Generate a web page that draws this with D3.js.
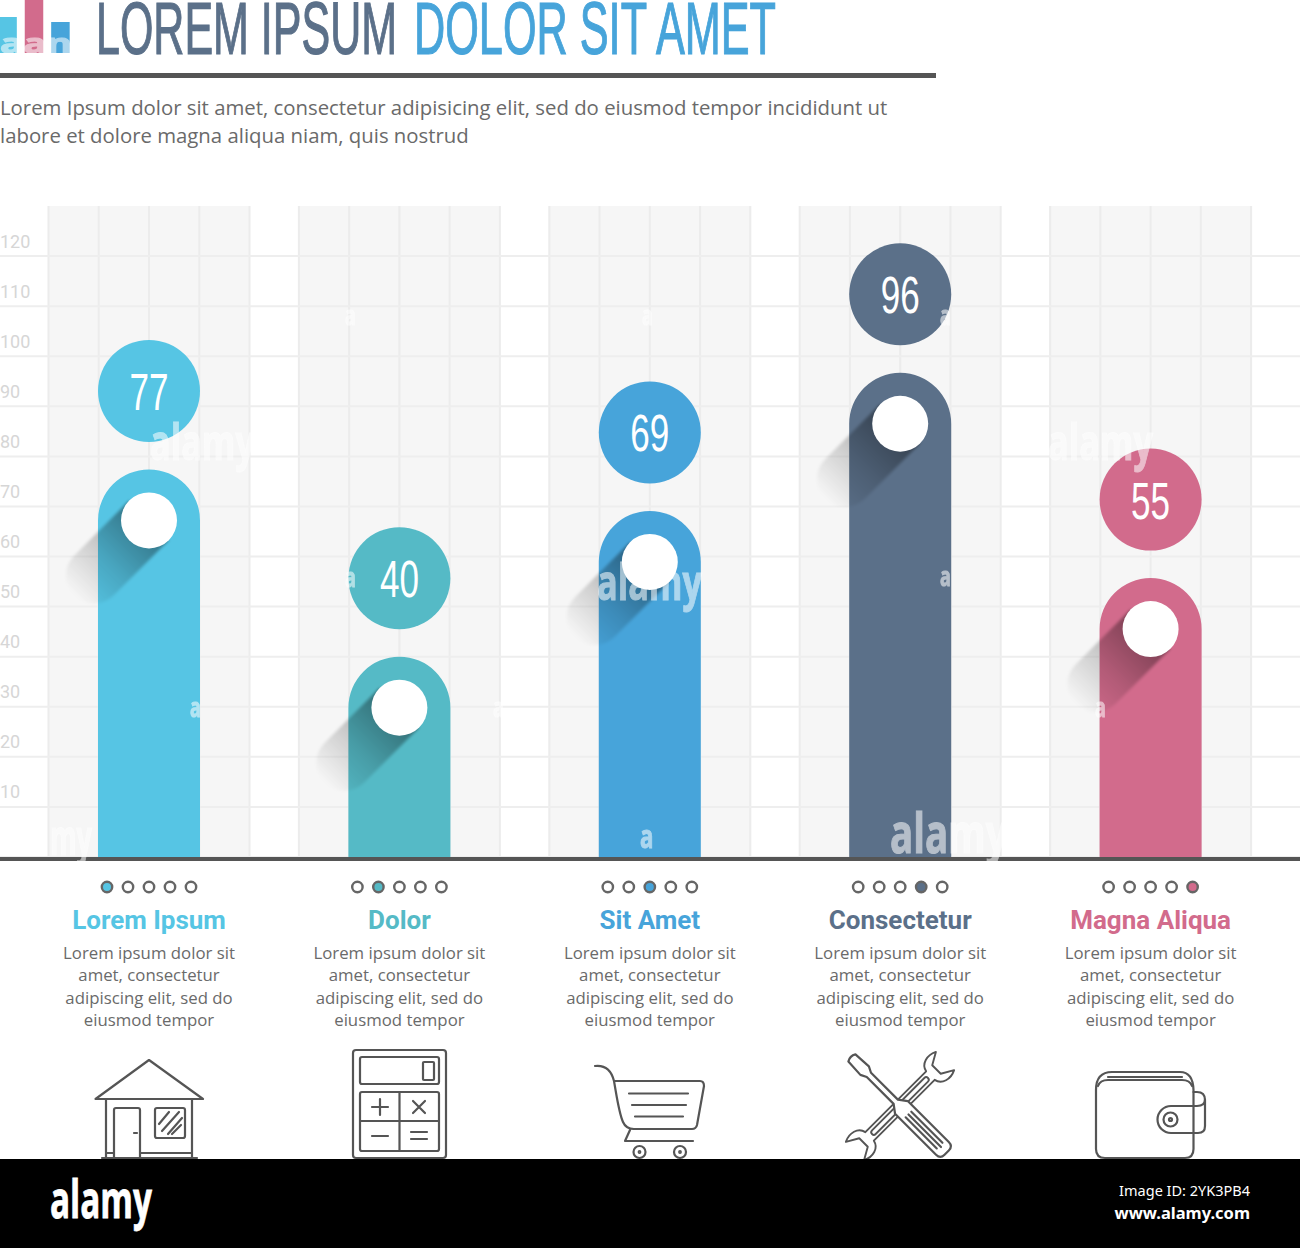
<!DOCTYPE html>
<html>
<head>
<meta charset="utf-8">
<script src="https://cdnjs.cloudflare.com/ajax/libs/d3/7.8.5/d3.min.js"></script>
<style>
  body { margin: 0; background: #fff; }
  svg { display: block; }
</style>
</head>
<body>
<svg id="chart" width="1300" height="1248"></svg>
<script>
// chart values
const categories = ["Lorem Ipsum", "Dolor", "Sit Amet", "Consectetur", "Magna Aliqua"];
const values = [77, 40, 69, 96, 55];
// where the bar tops really sit against the grid (the printed labels are rounded)
const barLevels = [77.4, 40, 69.1, 96.7, 55.7];
const colors = ["#56c5e4", "#55bac6", "#47a4da", "#5b7089", "#d26b8c"];
const tickValues = [10, 20, 30, 40, 50, 60, 70, 80, 90, 100, 110, 120];
const gridValues = [0, 10, 20, 30, 40, 50, 60, 70, 80, 90, 100, 110, 120];
const descLines = ["Lorem ipsum dolor sit", "amet, consectetur", "adipiscing elit, sed do", "eiusmod tempor"];
const subtitleLines = [
  "Lorem Ipsum dolor sit amet, consectetur adipisicing elit, sed do eiusmod tempor incididunt ut",
  "labore et dolore magna aliqua niam, quis nostrud"
];
const logoBars = [36, 53, 31];

// watermark pieces [text, x, y, size]
const marks = [
  ["alamy", 150, 460, 50], ["alamy", 597, 600, 50], ["alamy", 890, 853, 56], ["alamy", 1048, 460, 50],
  ["my", 50, 855, 50], ["a", 640, 848, 32], ["a", 940, 586, 26], ["a", 190, 717, 26], ["a", 1095, 717, 26],
  ["a", 345, 325, 26], ["a", 642, 325, 26], ["a", 345, 587, 26], ["a", 493, 717, 26], ["a", 940, 325, 26],
  ["aan", 0, 53, 26]
];

const W = 1300, H = 1248;
const svg = d3.select("#chart");
const defs = svg.append("defs");

const x = d3.scaleBand().domain(categories).range([23.8, 1275.8]);
const y = d3.scaleLinear().domain([0, 130]).range([857, 206]);
const cx = d => x(d) + x.bandwidth() / 2;
const barW = 102, bandW = 201, bubbleR = 51, knobR = 28;

const shadowGrad = defs.append("linearGradient").attr("id", "shadowGrad")
  .attr("x1", 0).attr("y1", 0).attr("x2", 0).attr("y2", 1);
shadowGrad.append("stop").attr("offset", 0).attr("stop-color", "#000").attr("stop-opacity", 0.42);
shadowGrad.append("stop").attr("offset", 0.55).attr("stop-color", "#000").attr("stop-opacity", 0.16);
shadowGrad.append("stop").attr("offset", 1).attr("stop-color", "#000").attr("stop-opacity", 0);
defs.append("filter").attr("id", "soft").append("feGaussianBlur").attr("stdDeviation", 1.5);

// header
const logoX = d3.scaleBand().domain(d3.range(3)).range([-3, 71]).paddingInner(0.3).paddingOuter(0.05);
const logoY = d3.scaleLinear().domain([0, 53]).range([53, 0]);
svg.selectAll(".logo").data(logoBars).join("rect").attr("class", "logo")
  .attr("x", (d, i) => logoX(i)).attr("y", d => logoY(d))
  .attr("width", logoX.bandwidth()).attr("height", d => logoY(0) - logoY(d))
  .attr("fill", (d, i) => [colors[0], colors[4], colors[2]][i]);

const titleFont = "'Liberation Sans Narrow','Liberation Sans',sans-serif";
svg.append("text").attr("x", 96).attr("y", 54).attr("font-family", titleFont).attr("font-size", 74)
  .attr("textLength", 301).attr("lengthAdjust", "spacingAndGlyphs").attr("fill", colors[3])
  .attr("stroke", colors[3]).attr("stroke-width", 1.2).text("LOREM IPSUM");
svg.append("text").attr("x", 414).attr("y", 54).attr("font-family", titleFont).attr("font-size", 74)
  .attr("textLength", 362).attr("lengthAdjust", "spacingAndGlyphs").attr("fill", colors[2])
  .attr("stroke", colors[2]).attr("stroke-width", 1.2).text("DOLOR SIT AMET");
svg.append("rect").attr("x", 0).attr("y", 73).attr("width", 936).attr("height", 5).attr("fill", "#555");

svg.selectAll(".sub").data(subtitleLines).join("text").attr("class", "sub")
  .attr("x", 0).attr("y", (d, i) => 115 + i * 28)
  .attr("font-family", "'Open Sans'").attr("font-size", 20.35).attr("fill", "#6a6a6a").text(d => d);

// grid bands
const bands = svg.append("g");
categories.forEach(c => {
  const g = bands.append("g").attr("transform", `translate(${cx(c) - bandW / 2},0)`);
  g.append("rect").attr("y", y(130)).attr("width", bandW).attr("height", y(0) - y(130)).attr("fill", "#f6f6f6");
  const inner = d3.scaleLinear().domain([0, 4]).range([0, bandW]);
  g.selectAll("line").data(d3.range(5)).join("line")
    .attr("x1", inner).attr("x2", inner).attr("y1", y(130)).attr("y2", y(0))
    .attr("stroke", "#ececec").attr("stroke-width", 2);
});

svg.append("g").selectAll("line").data(gridValues).join("line")
  .attr("x1", 0).attr("x2", W).attr("y1", y).attr("y2", y)
  .attr("stroke", "#eeeeee").attr("stroke-width", 2);

// axis labels sit above their grid line
const axis = svg.append("g").call(d3.axisRight(y).tickValues(tickValues).tickSize(0).tickPadding(0));
axis.select(".domain").remove();
axis.selectAll("text").attr("x", 0).attr("dy", "-0.5em")
  .attr("font-family", "Roboto").attr("font-size", 18).attr("fill", "#d6d6d6");

// bars
categories.forEach((c, i) => {
  const t = y(barLevels[i]), mid = cx(c), r = barW / 2;
  const g = svg.append("g");
  g.append("path")
    .attr("d", `M${mid - r},${y(0)}V${t + r}A${r},${r} 0 0 1 ${mid + r},${t + r}V${y(0)}Z`)
    .attr("fill", colors[i]);
  // long shadow of the knob
  g.append("path")
    .attr("transform", `translate(${mid},${t + r}) rotate(45)`)
    .attr("d", `M${-knobR},0V78A${knobR},${knobR} 0 0 0 ${knobR},78V0Z`)
    .attr("fill", "url(#shadowGrad)").attr("filter", "url(#soft)");
  g.append("circle").attr("cx", mid).attr("cy", t + r).attr("r", knobR).attr("fill", "#fff");
  g.append("circle").attr("cx", mid).attr("cy", t - 78.5).attr("r", bubbleR).attr("fill", colors[i]);
  g.append("text").attr("x", mid).attr("y", t - 59.5).attr("text-anchor", "middle")
    .attr("font-family", titleFont).attr("font-size", 52)
    .attr("textLength", 39).attr("lengthAdjust", "spacingAndGlyphs")
    .attr("fill", "#fff").text(values[i]);
});

// baseline
svg.append("rect").attr("x", 0).attr("y", y(0)).attr("width", W).attr("height", 4).attr("fill", "#555");

// pager dots and captions
const dotX = d3.scalePoint().domain(d3.range(5)).range([-42, 42]);
categories.forEach((c, i) => {
  const mid = cx(c);
  const g = svg.append("g").attr("transform", `translate(${mid},0)`);
  g.selectAll("circle").data(d3.range(5)).join("circle")
    .attr("cx", dotX).attr("cy", 887).attr("r", 5.2)
    .attr("fill", k => k === i ? colors[i] : "#fff")
    .attr("stroke", "#666").attr("stroke-width", 2.4);
  g.append("text").attr("y", 929).attr("text-anchor", "middle")
    .attr("font-family", "Roboto").attr("font-weight", 700).attr("font-size", 26)
    .attr("fill", colors[i]).text(c);
  g.selectAll(".desc").data(descLines).join("text").attr("class", "desc")
    .attr("y", (d, k) => 959 + k * 22.4).attr("text-anchor", "middle")
    .attr("font-family", "'Open Sans'").attr("font-size", 16.8).attr("fill", "#6a6a6a").text(d => d);
});

// icons
const icons = svg.append("g").attr("fill", "none").attr("stroke", "#555").attr("stroke-width", 2.2)
  .attr("stroke-linejoin", "round").attr("stroke-linecap", "round");
const iconPath = d => icons.append("path").attr("d", d);

// house
iconPath("M95.5 1099L149 1060L203 1099Z");
iconPath("M106 1099V1158M192 1099V1158M102 1158H197M106 1153H114M140 1153H192");
iconPath("M114 1158V1110Q114 1108 116 1108H138Q140 1108 140 1110V1158M134 1133H137");
iconPath("M157 1108H183Q185 1108 185 1110V1136Q185 1138 183 1138H157Q155 1138 155 1136V1110Q155 1108 157 1108Z");
iconPath("M159 1124L169 1112M162 1131L179 1112M168 1134L182 1118M172 1134L181 1125");

// calculator
icons.append("rect").attr("x", 353).attr("y", 1050).attr("width", 93).attr("height", 108).attr("rx", 3);
icons.append("rect").attr("x", 360).attr("y", 1057).attr("width", 79).attr("height", 27).attr("rx", 2);
icons.append("rect").attr("x", 423).attr("y", 1062).attr("width", 11).attr("height", 18).attr("rx", 1);
icons.append("rect").attr("x", 360).attr("y", 1092).attr("width", 79).attr("height", 59).attr("rx", 2);
iconPath("M399.5 1092V1151M360 1121H439");
iconPath("M372 1107H388M380 1099V1115M413 1101L425 1113M425 1101L413 1113M372 1136H388M411 1132H427M411 1139H427");

// cart
iconPath("M595 1066C604 1065 611 1069 614 1081C617 1098 619 1113 623 1122Q626 1129 634 1129H692Q696 1129 697 1125L704 1086Q704 1081 700 1081H614");
iconPath("M630 1130L625 1141H693M629 1093.5H688M632 1105H686M635 1116.5H683");
icons.append("circle").attr("cx", 639.5).attr("cy", 1152).attr("r", 6);
icons.append("circle").attr("cx", 680).attr("cy", 1152).attr("r", 6);
icons.append("circle").attr("cx", 639.5).attr("cy", 1152).attr("r", 0.8);
icons.append("circle").attr("cx", 680).attr("cy", 1152).attr("r", 0.8);

// wrench, drawn along its own axis
const wrench = icons.append("g").attr("transform", "translate(900,1106) rotate(-45) scale(0.86)").attr("fill", "#fff");
wrench.append("path").attr("d",
  "M-50,-7L50,-7C52,-17 64,-20 74,-15L60,-7L60,7L74,15C64,20 52,17 50,7L-50,7C-52,17 -64,20 -74,15L-60,7L-60,-7L-74,-15C-64,-20 -52,-17 -50,-7Z");
wrench.append("rect").attr("x", -46).attr("y", -3).attr("width", 92).attr("height", 6).attr("rx", 3);

// screwdriver on top of it
const driver = icons.append("g").attr("transform", "translate(900,1106) rotate(45)").attr("fill", "#fff");
driver.append("path").attr("d",
  "M-68,-5Q-71,0 -68,5L-50,6L-44,3L-6,3L2,9L60,9Q66,9 66,3L66,-3Q66,-9 60,-9L2,-9L-6,-3L-44,-3L-50,-6Z");
driver.append("path").attr("d", "M12,-4H56M12,0H58M12,4H56");

// wallet
iconPath("M1096 1090Q1096 1072 1112 1072H1180Q1193 1072 1193.5 1090V1149Q1193.5 1158 1185 1158H1105Q1096 1158 1096 1149Z");
iconPath("M1098 1086Q1100 1080 1108 1080H1182Q1190 1080 1192 1086M1108 1077H1182");
iconPath("M1193.5 1092H1197Q1205 1092 1205 1100V1126Q1205 1133 1198 1133H1171A13.5 13.5 0 0 1 1171 1106H1197Q1205 1106 1205 1099");
icons.append("circle").attr("cx", 1170.5).attr("cy", 1119.5).attr("r", 7);
icons.append("circle").attr("cx", 1170.5).attr("cy", 1119.5).attr("r", 1.5);

// faint watermark
svg.append("g").selectAll("text").data(marks).join("text")
  .attr("x", d => d[1]).attr("y", d => d[2]).attr("font-size", d => d[3])
  .attr("font-family", "'Open Sans'").attr("font-weight", 700)
  .attr("textLength", d => d[0] === "aan" ? 72 : d[0].length * d[3] * 0.42).attr("lengthAdjust", "spacingAndGlyphs")
  .attr("fill", "#fff").attr("stroke", "#fff").attr("stroke-width", 1)
  .attr("opacity", 0.55).text(d => d[0]);

// footer strip
svg.append("rect").attr("x", 0).attr("y", 1159).attr("width", W).attr("height", H - 1159).attr("fill", "#000");
svg.append("text").attr("x", 50).attr("y", 1218).attr("font-family", "'Open Sans'").attr("font-weight", 700)
  .attr("font-size", 52).attr("textLength", 102).attr("lengthAdjust", "spacingAndGlyphs")
  .attr("fill", "#fff").attr("stroke", "#fff").attr("stroke-width", 0.8).text("alamy");
svg.append("text").attr("x", 1250).attr("y", 1196).attr("text-anchor", "end").attr("font-family", "'Noto Sans'")
  .attr("font-size", 14.5).attr("fill", "#fff").text("Image ID: 2YK3PB4");
svg.append("text").attr("x", 1250).attr("y", 1219).attr("text-anchor", "end").attr("font-family", "'Noto Sans'")
  .attr("font-weight", 700).attr("font-size", 16.5).attr("fill", "#fff").text("www.alamy.com");
</script>
</body>
</html>
